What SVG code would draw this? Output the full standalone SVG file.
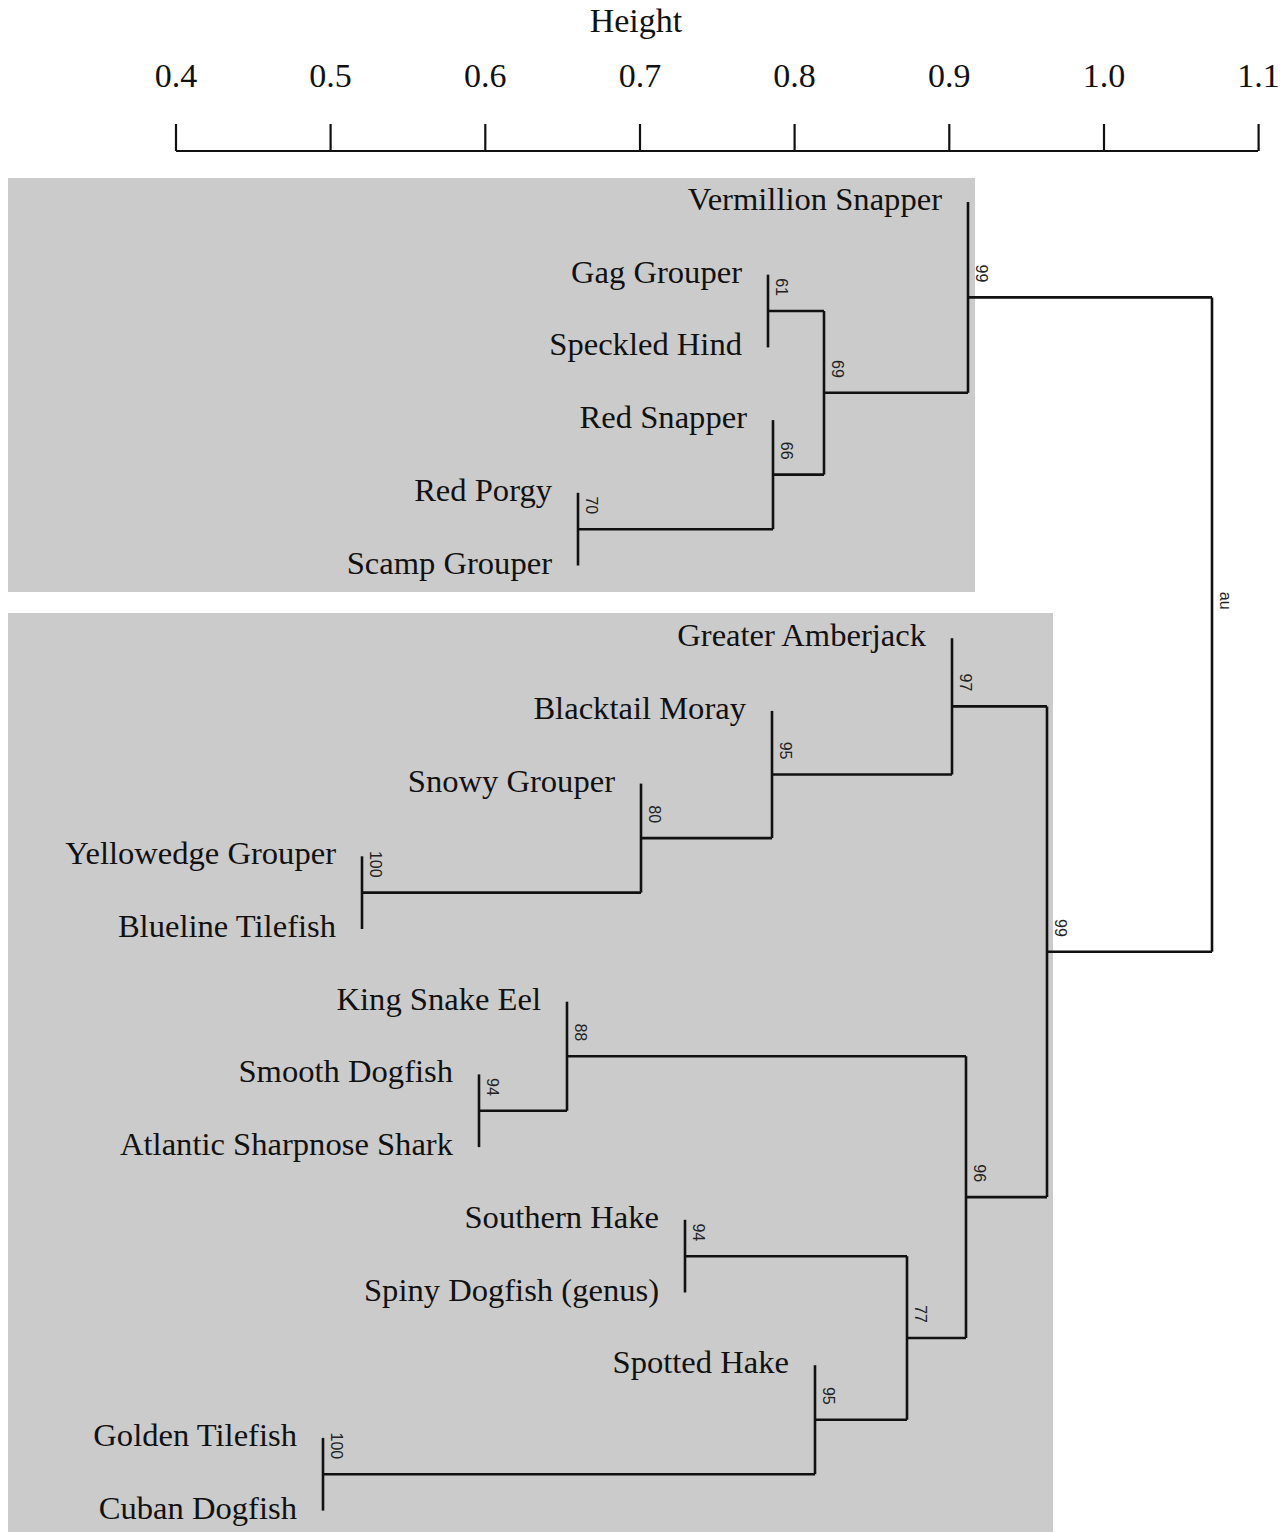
<svg xmlns="http://www.w3.org/2000/svg" width="1288" height="1532" viewBox="0 0 1288 1532">
<style>
.bg{fill:#cbcbcb}
.ax{stroke:#111;stroke-width:2.2;fill:none}
.axt{font-family:"Liberation Serif","Times New Roman",serif;font-size:34px;fill:#111;text-anchor:middle}
.lab{font-family:"Liberation Serif","Times New Roman",serif;font-size:32.6px;fill:#111;text-anchor:end}
.br{stroke:#111;stroke-width:2.6;fill:none}
.nv{font-family:"Liberation Sans",Arial,sans-serif;font-size:16px;fill:#222;text-anchor:end}
</style>
<rect width="1288" height="1532" fill="#fff"/>
<g id="panels">
<rect class="bg" x="8" y="178" width="967" height="414"/>
<rect class="bg" x="8" y="613" width="1045" height="919"/>
</g>
<g id="axis">
<text class="axt" x="636" y="32">Height</text>
<path class="ax" d="M176,151H1258M176,124V151M330.6,124V151M485.3,124V151M640,124V151M794.6,124V151M949.3,124V151M1104,124V151M1258.6,124V151"/>
<text class="axt" x="176" y="87">0.4</text>
<text class="axt" x="330.6" y="87">0.5</text>
<text class="axt" x="485.3" y="87">0.6</text>
<text class="axt" x="640" y="87">0.7</text>
<text class="axt" x="794.6" y="87">0.8</text>
<text class="axt" x="949.3" y="87">0.9</text>
<text class="axt" x="1104" y="87">1.0</text>
<text class="axt" x="1258.6" y="87">1.1</text>
</g>
<g id="leaves">
<g id="leaf-vermillion-snapper"><text class="lab" x="942" y="210">Vermillion Snapper</text></g>
<g id="leaf-gag-grouper"><text class="lab" x="742" y="282.7">Gag Grouper</text></g>
<g id="leaf-speckled-hind"><text class="lab" x="742" y="355.4">Speckled Hind</text></g>
<g id="leaf-red-snapper"><text class="lab" x="747" y="428.1">Red Snapper</text></g>
<g id="leaf-red-porgy"><text class="lab" x="552" y="500.8">Red Porgy</text></g>
<g id="leaf-scamp-grouper"><text class="lab" x="552" y="573.5">Scamp Grouper</text></g>
<g id="leaf-greater-amberjack"><text class="lab" x="926" y="646.2">Greater Amberjack</text></g>
<g id="leaf-blacktail-moray"><text class="lab" x="746" y="718.9">Blacktail Moray</text></g>
<g id="leaf-snowy-grouper"><text class="lab" x="615" y="791.6">Snowy Grouper</text></g>
<g id="leaf-yellowedge-grouper"><text class="lab" x="336" y="864.3">Yellowedge Grouper</text></g>
<g id="leaf-blueline-tilefish"><text class="lab" x="336" y="937">Blueline Tilefish</text></g>
<g id="leaf-king-snake-eel"><text class="lab" x="541" y="1009.7">King Snake Eel</text></g>
<g id="leaf-smooth-dogfish"><text class="lab" x="453" y="1082.4">Smooth Dogfish</text></g>
<g id="leaf-atlantic-sharpnose-shark"><text class="lab" x="453" y="1155.1">Atlantic Sharpnose Shark</text></g>
<g id="leaf-southern-hake"><text class="lab" x="659" y="1227.8">Southern Hake</text></g>
<g id="leaf-spiny-dogfish"><text class="lab" x="659" y="1300.5">Spiny Dogfish (genus)</text></g>
<g id="leaf-spotted-hake"><text class="lab" x="789" y="1373.2">Spotted Hake</text></g>
<g id="leaf-golden-tilefish"><text class="lab" x="297" y="1445.9">Golden Tilefish</text></g>
<g id="leaf-cuban-dogfish"><text class="lab" x="297" y="1518.6">Cuban Dogfish</text></g>
</g>
<g id="nodes">
<g id="node-A"><path class="br" d="M768,274.7V347.4"/><text class="nv" transform="translate(775.5,296) rotate(90)">61</text></g>
<g id="node-B"><path class="br" d="M578,492.8V565.5"/><text class="nv" transform="translate(585.5,514.2) rotate(90)">70</text></g>
<g id="node-C"><path class="br" d="M773,420.1V529.2"/><text class="nv" transform="translate(780.5,459.6) rotate(90)">66</text></g>
<g id="node-D"><path class="br" d="M824,311V474.6"/><text class="nv" transform="translate(831.5,377.8) rotate(90)">69</text></g>
<g id="node-E"><path class="br" d="M968,202V392.8"/><text class="nv" transform="translate(975.5,282.4) rotate(90)">99</text></g>
<g id="node-F"><path class="br" d="M362,856.3V929"/><text class="nv" transform="translate(369.5,877.6) rotate(90)">100</text></g>
<g id="node-G"><path class="br" d="M641,783.6V892.6"/><text class="nv" transform="translate(648.5,823.1) rotate(90)">80</text></g>
<g id="node-H"><path class="br" d="M772,710.9V838.1"/><text class="nv" transform="translate(779.5,759.5) rotate(90)">95</text></g>
<g id="node-I"><path class="br" d="M952,638.2V774.5"/><text class="nv" transform="translate(959.5,691.4) rotate(90)">97</text></g>
<g id="node-J"><path class="br" d="M479,1074.4V1147.1"/><text class="nv" transform="translate(486.5,1095.8) rotate(90)">94</text></g>
<g id="node-K"><path class="br" d="M567,1001.7V1110.8"/><text class="nv" transform="translate(574.5,1041.2) rotate(90)">88</text></g>
<g id="node-L"><path class="br" d="M685,1219.8V1292.5"/><text class="nv" transform="translate(692.5,1241.2) rotate(90)">94</text></g>
<g id="node-M"><path class="br" d="M323,1437.9V1510.6"/><text class="nv" transform="translate(330.5,1459.2) rotate(90)">100</text></g>
<g id="node-N"><path class="br" d="M815,1365.2V1474.2"/><text class="nv" transform="translate(822.5,1404.7) rotate(90)">95</text></g>
<g id="node-O"><path class="br" d="M907,1256.2V1419.7"/><text class="nv" transform="translate(914.5,1323) rotate(90)">77</text></g>
<g id="node-P"><path class="br" d="M966,1056.2V1338"/><text class="nv" transform="translate(973.5,1182.1) rotate(90)">96</text></g>
<g id="node-Q"><path class="br" d="M1047,706.4V1197.1"/><text class="nv" transform="translate(1054.5,936.8) rotate(90)">99</text></g>
<g id="node-root"><path class="br" d="M1212,297.4V951.8"/><text class="nv" transform="translate(1219.5,609.6) rotate(90)">au</text></g>
</g>
<g id="connectors">
<path class="br" d="M768,311H824"/>
<path class="br" d="M773,474.6H824"/>
<path class="br" d="M578,529.2H773"/>
<path class="br" d="M824,392.8H968"/>
<path class="br" d="M968,297.4H1212"/>
<path class="br" d="M1047,951.8H1212"/>
<path class="br" d="M362,892.6H641"/>
<path class="br" d="M641,838.1H772"/>
<path class="br" d="M772,774.5H952"/>
<path class="br" d="M952,706.4H1047"/>
<path class="br" d="M479,1110.8H567"/>
<path class="br" d="M567,1056.2H966"/>
<path class="br" d="M685,1256.2H907"/>
<path class="br" d="M323,1474.2H815"/>
<path class="br" d="M815,1419.7H907"/>
<path class="br" d="M907,1338H966"/>
<path class="br" d="M966,1197.1H1047"/>
</g>
</svg>
